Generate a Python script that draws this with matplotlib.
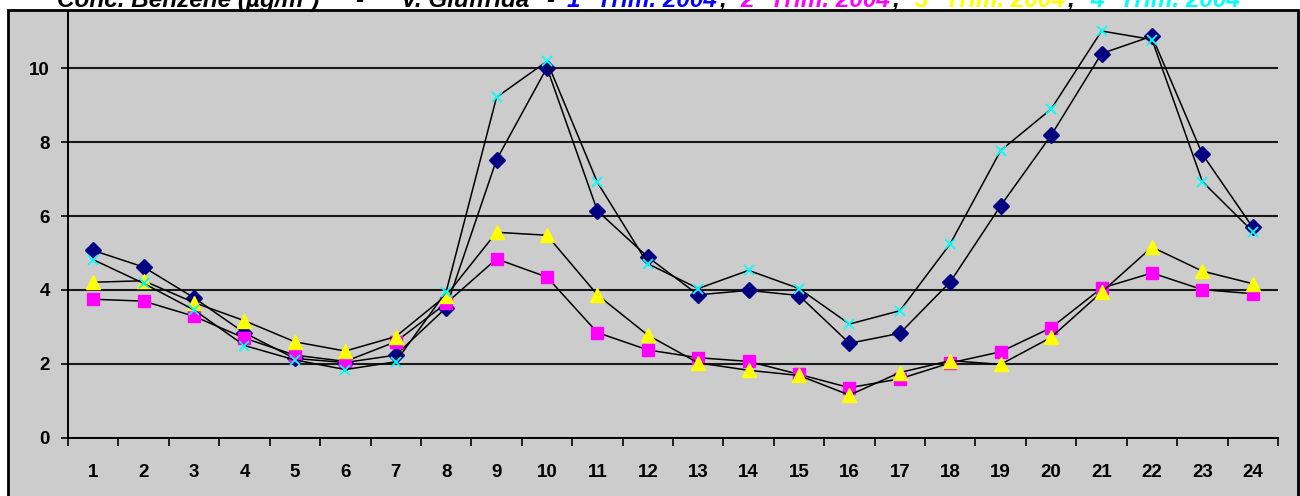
import matplotlib
matplotlib.use("Agg")
import matplotlib.pyplot as plt
from matplotlib.patches import Rectangle
from matplotlib.ticker import FixedLocator, NullFormatter
from matplotlib.font_manager import FontProperties

# Hourly benzene concentration (µg/m³), one series per quarter of 2004
hours = list(range(1, 25))
trim1 = [5.07, 4.62, 3.79, 2.84, 2.15, 2.04, 2.24, 3.52, 7.52, 10.01, 6.14, 4.89,
         3.87, 3.99, 3.85, 2.56, 2.83, 4.22, 6.28, 8.18, 10.39, 10.86, 7.67, 5.69]
trim2 = [3.75, 3.70, 3.29, 2.70, 2.24, 2.07, 2.60, 3.64, 4.84, 4.35, 2.85, 2.38,
         2.17, 2.07, 1.72, 1.36, 1.60, 2.03, 2.33, 2.98, 4.05, 4.46, 4.01, 3.90]
trim3 = [4.21, 4.25, 3.66, 3.17, 2.60, 2.35, 2.74, 3.85, 5.56, 5.48, 3.87, 2.78,
         2.03, 1.83, 1.69, 1.16, 1.77, 2.09, 1.99, 2.72, 3.94, 5.16, 4.51, 4.17]
trim4 = [4.82, 4.18, 3.46, 2.50, 2.11, 1.85, 2.06, 3.95, 9.21, 10.18, 6.91, 4.71,
         4.04, 4.53, 4.04, 3.08, 3.44, 5.25, 7.77, 8.89, 11.00, 10.77, 6.93, 5.58]
y_ticks = [0, 2, 4, 6, 8, 10]

W, H = 1300, 496
BG = "#cccccc"
fig = plt.figure(figsize=(W / 100, H / 100), dpi=100)
fig.patch.set_facecolor("white")

# chart frame
frame = Rectangle((8 / W, -0.05), (1298 - 8) / W, (1 - 10 / H) + 0.05,
                  transform=fig.transFigure, facecolor=BG, edgecolor="black",
                  lw=2.0, zorder=-5)
fig.patches.append(frame)

ax = fig.add_axes([68 / W, (H - 438) / H, (1278 - 68) / W, (438 - 12) / H])
ax.set_zorder(1)
ax.set_facecolor(BG)
ax.set_xlim(0.5, 24.5)
ax.set_ylim(0, 426 / 37)

for s in ("top", "right"):
    ax.spines[s].set_visible(False)
for s in ("left", "bottom"):
    ax.spines[s].set_linewidth(1.4)
    ax.spines[s].set_color("black")

ax.set_yticks(y_ticks)
ax.set_yticklabels([str(v) for v in y_ticks])
ax.yaxis.grid(True, color="#1a1a1a", lw=1.5)
ax.set_axisbelow(True)

ax.xaxis.set_major_locator(FixedLocator([h - 0.5 for h in hours] + [24.5]))
ax.xaxis.set_major_formatter(NullFormatter())
ax.xaxis.set_minor_locator(FixedLocator(hours))
ax.set_xticklabels([str(h) for h in hours], minor=True)

tick_font = FontProperties(family="Liberation Sans", weight="bold", size=13.5)
for lab in ax.get_yticklabels() + ax.get_xticklabels(minor=True):
    lab.set_fontproperties(tick_font)

ax.tick_params(axis="y", direction="out", length=5, width=1.2, pad=8, colors="black")
ax.tick_params(axis="x", which="major", direction="out", length=6, width=1.2)
ax.tick_params(axis="x", which="minor", length=0, pad=19)

line_kw = dict(color="black", lw=1.1)
ax.plot(hours, trim1, marker="D", ms=8.5, mfc="#000080", mec="#000080", **line_kw)
ax.plot(hours, trim2, marker="s", ms=8.5, mfc="#ff00ff", mec="#ff00ff", **line_kw)
ax.plot(hours, trim3, marker="^", ms=10, mfc="#ffff00", mec="#ffff00", **line_kw)
ax.plot(hours, trim4, marker="x", ms=7.5, mew=1.3, mfc="#00ffff", mec="#00ffff", **line_kw)

# title, drawn piece by piece in the series colours
title_parts = [
    (57, "Conc. Benzene (µg/m³)", "black"),
    (355, "-", "black"),
    (401, "V. Giuffrida", "black"),
    (546, "-", "black"),
    (567, "1° Trim. 2004", "#0000ff"),
    (719, ",", "black"),
    (740, "2° Trim. 2004", "#ff00ff"),
    (892, ",", "black"),
    (915, "3° Trim. 2004", "#ffff00"),
    (1067, ",", "black"),
    (1090, "4° Trim. 2004", "#00ffff"),
]
for x, txt, col in title_parts:
    fig.text(x / W, 1 - 7 / H, txt, color=col, family="Liberation Sans",
             weight="bold", style="italic", size=17.5, ha="left", va="baseline")

fig.savefig("out.png", dpi=100, facecolor=fig.get_facecolor())
